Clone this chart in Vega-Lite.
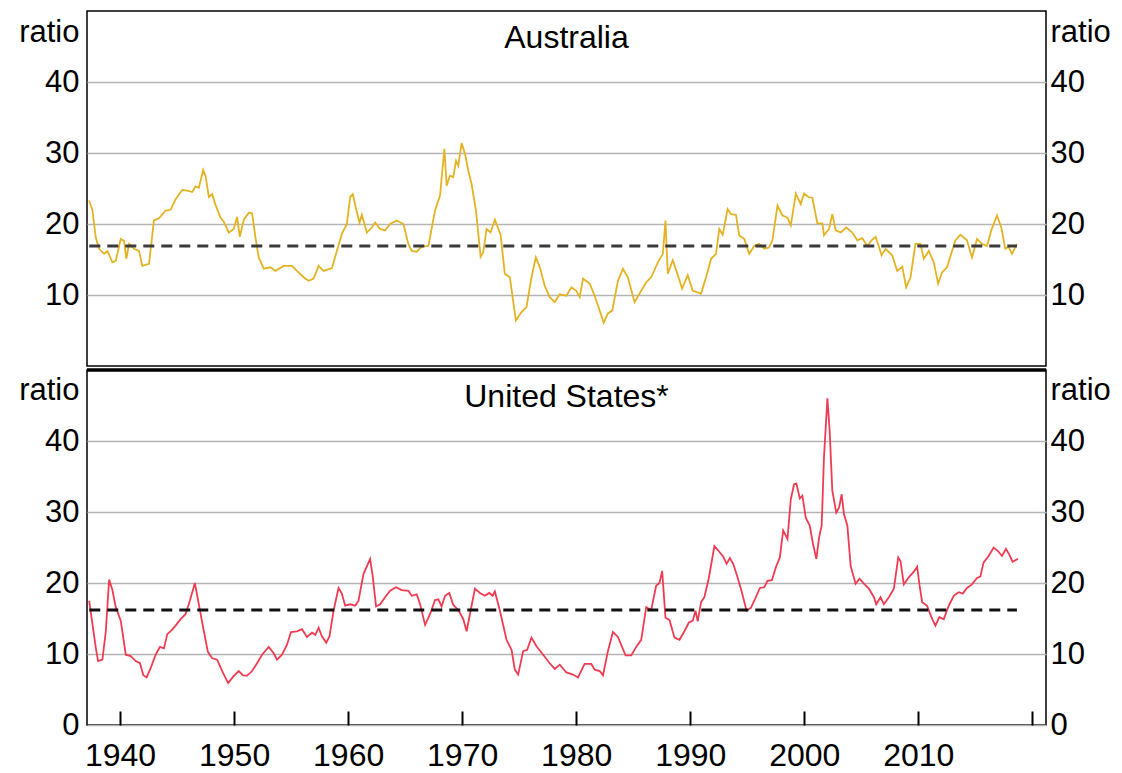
{
  "$schema": "https://vega.github.io/schema/vega-lite/v6.json",
  "background": "white",
  "padding": {"left": 17, "top": 10, "right": 5, "bottom": 2},
  "autosize": {"type": "pad"},
  "spacing": 0,
  "config": {
    "font": "Liberation Sans",
    "view": {"stroke": "black", "strokeWidth": 1.5},
    "axis": {
      "labelFont": "Liberation Sans",
      "labelFontSize": 31,
      "labelColor": "black",
      "titleFont": "Liberation Sans",
      "titleFontSize": 31,
      "titleFontWeight": "normal",
      "titleColor": "black"
    }
  },
  "datasets": {
    "aus": [
      {"year": 1937.29, "value": 23.3}, {"year": 1937.58, "value": 21.9}, {"year": 1937.87, "value": 18.1},
      {"year": 1938.16, "value": 16.5}, {"year": 1938.6, "value": 15.8}, {"year": 1938.89, "value": 16.2},
      {"year": 1939.33, "value": 14.6}, {"year": 1939.62, "value": 14.8}, {"year": 1940.06, "value": 17.9},
      {"year": 1940.35, "value": 17.6}, {"year": 1940.55, "value": 15.1}, {"year": 1940.79, "value": 17.2},
      {"year": 1941.22, "value": 16.5}, {"year": 1941.66, "value": 16.2}, {"year": 1941.95, "value": 14.1},
      {"year": 1942.54, "value": 14.4}, {"year": 1942.97, "value": 20.5}, {"year": 1943.41, "value": 20.8},
      {"year": 1943.99, "value": 21.9}, {"year": 1944.43, "value": 22.0}, {"year": 1944.87, "value": 23.5},
      {"year": 1945.45, "value": 24.8}, {"year": 1945.89, "value": 24.7}, {"year": 1946.33, "value": 24.5},
      {"year": 1946.62, "value": 25.3}, {"year": 1946.91, "value": 25.1}, {"year": 1947.29, "value": 27.6},
      {"year": 1947.49, "value": 26.8}, {"year": 1947.79, "value": 23.8}, {"year": 1948.08, "value": 24.2},
      {"year": 1948.37, "value": 22.7}, {"year": 1948.81, "value": 20.9}, {"year": 1949.1, "value": 20.3},
      {"year": 1949.54, "value": 18.8}, {"year": 1949.97, "value": 19.3}, {"year": 1950.26, "value": 21.0},
      {"year": 1950.5, "value": 18.2}, {"year": 1950.85, "value": 20.6}, {"year": 1951.29, "value": 21.6},
      {"year": 1951.58, "value": 21.5}, {"year": 1951.87, "value": 18.1}, {"year": 1952.16, "value": 15.3},
      {"year": 1952.6, "value": 13.7}, {"year": 1953.18, "value": 13.9}, {"year": 1953.62, "value": 13.4},
      {"year": 1954.35, "value": 14.1}, {"year": 1955.08, "value": 14.1}, {"year": 1955.51, "value": 13.4},
      {"year": 1956.1, "value": 12.5}, {"year": 1956.53, "value": 12.0}, {"year": 1956.97, "value": 12.3},
      {"year": 1957.41, "value": 14.1}, {"year": 1957.85, "value": 13.4}, {"year": 1958.58, "value": 13.8},
      {"year": 1959.01, "value": 16.2}, {"year": 1959.45, "value": 18.6}, {"year": 1959.89, "value": 20.0},
      {"year": 1960.18, "value": 23.8}, {"year": 1960.41, "value": 24.2}, {"year": 1960.7, "value": 22.1},
      {"year": 1961.0, "value": 20.2}, {"year": 1961.2, "value": 21.3}, {"year": 1961.64, "value": 18.8},
      {"year": 1962.08, "value": 19.5}, {"year": 1962.37, "value": 20.2}, {"year": 1962.81, "value": 19.3},
      {"year": 1963.24, "value": 19.1}, {"year": 1963.68, "value": 20.0}, {"year": 1964.26, "value": 20.5},
      {"year": 1964.85, "value": 20.0}, {"year": 1965.28, "value": 17.2}, {"year": 1965.58, "value": 16.2},
      {"year": 1966.02, "value": 16.1}, {"year": 1966.45, "value": 16.8}, {"year": 1967.04, "value": 16.9},
      {"year": 1967.62, "value": 21.9}, {"year": 1968.06, "value": 24.0}, {"year": 1968.44, "value": 30.6},
      {"year": 1968.64, "value": 25.4}, {"year": 1968.93, "value": 26.8}, {"year": 1969.22, "value": 26.6},
      {"year": 1969.46, "value": 28.9}, {"year": 1969.66, "value": 28.2}, {"year": 1969.95, "value": 31.4},
      {"year": 1970.25, "value": 29.9}, {"year": 1970.54, "value": 27.5}, {"year": 1970.83, "value": 25.6},
      {"year": 1971.21, "value": 21.9}, {"year": 1971.62, "value": 15.4}, {"year": 1971.85, "value": 16.0},
      {"year": 1972.14, "value": 19.3}, {"year": 1972.49, "value": 18.8}, {"year": 1972.87, "value": 20.6},
      {"year": 1973.37, "value": 18.5}, {"year": 1973.74, "value": 13.0}, {"year": 1974.18, "value": 12.5},
      {"year": 1974.71, "value": 6.4}, {"year": 1975.2, "value": 7.6}, {"year": 1975.64, "value": 8.3},
      {"year": 1976.08, "value": 12.5}, {"year": 1976.46, "value": 15.3}, {"year": 1976.81, "value": 13.9},
      {"year": 1977.24, "value": 11.3}, {"year": 1977.68, "value": 9.7}, {"year": 1978.12, "value": 9.0},
      {"year": 1978.56, "value": 10.1}, {"year": 1979.14, "value": 9.9}, {"year": 1979.58, "value": 11.1},
      {"year": 1980.01, "value": 10.6}, {"year": 1980.31, "value": 9.7}, {"year": 1980.6, "value": 12.3},
      {"year": 1981.18, "value": 11.6}, {"year": 1981.62, "value": 9.9}, {"year": 1982.06, "value": 7.8},
      {"year": 1982.41, "value": 6.1}, {"year": 1982.78, "value": 7.4}, {"year": 1983.16, "value": 7.8},
      {"year": 1983.66, "value": 12.0}, {"year": 1984.1, "value": 13.7}, {"year": 1984.53, "value": 12.5},
      {"year": 1985.12, "value": 9.0}, {"year": 1985.7, "value": 10.6}, {"year": 1986.14, "value": 11.8},
      {"year": 1986.58, "value": 12.5}, {"year": 1987.16, "value": 14.6}, {"year": 1987.6, "value": 15.8},
      {"year": 1987.83, "value": 20.5}, {"year": 1988.03, "value": 13.0}, {"year": 1988.47, "value": 14.9},
      {"year": 1988.91, "value": 12.8}, {"year": 1989.29, "value": 10.9}, {"year": 1989.78, "value": 12.8},
      {"year": 1990.22, "value": 10.6}, {"year": 1990.95, "value": 10.2}, {"year": 1991.39, "value": 12.5},
      {"year": 1991.83, "value": 15.1}, {"year": 1992.26, "value": 15.8}, {"year": 1992.55, "value": 19.3},
      {"year": 1992.85, "value": 18.5}, {"year": 1993.28, "value": 22.1}, {"year": 1993.57, "value": 21.4},
      {"year": 1994.01, "value": 21.3}, {"year": 1994.3, "value": 18.4}, {"year": 1994.74, "value": 17.9},
      {"year": 1995.17, "value": 15.8}, {"year": 1995.61, "value": 16.9}, {"year": 1996.05, "value": 17.2},
      {"year": 1996.49, "value": 16.5}, {"year": 1996.92, "value": 16.7}, {"year": 1997.21, "value": 17.7},
      {"year": 1997.65, "value": 22.6}, {"year": 1998.09, "value": 21.2}, {"year": 1998.53, "value": 20.9},
      {"year": 1998.82, "value": 19.8}, {"year": 1999.26, "value": 24.3}, {"year": 1999.69, "value": 22.8},
      {"year": 1999.98, "value": 24.3}, {"year": 2000.36, "value": 23.8}, {"year": 2000.71, "value": 23.7},
      {"year": 2001.15, "value": 20.1}, {"year": 2001.59, "value": 20.1}, {"year": 2001.73, "value": 18.4},
      {"year": 2002.17, "value": 19.3}, {"year": 2002.46, "value": 21.4}, {"year": 2002.76, "value": 19.1},
      {"year": 2003.19, "value": 18.8}, {"year": 2003.69, "value": 19.5}, {"year": 2004.21, "value": 18.8},
      {"year": 2004.65, "value": 17.7}, {"year": 2005.09, "value": 18.0}, {"year": 2005.53, "value": 16.9},
      {"year": 2005.9, "value": 17.7}, {"year": 2006.26, "value": 18.2}, {"year": 2006.55, "value": 16.8},
      {"year": 2006.78, "value": 15.6}, {"year": 2007.13, "value": 16.5}, {"year": 2007.71, "value": 15.6},
      {"year": 2008.15, "value": 13.4}, {"year": 2008.59, "value": 14.0}, {"year": 2008.94, "value": 11.1},
      {"year": 2009.32, "value": 12.5}, {"year": 2009.75, "value": 17.2}, {"year": 2010.19, "value": 17.2},
      {"year": 2010.48, "value": 15.1}, {"year": 2010.92, "value": 16.2}, {"year": 2011.36, "value": 14.6},
      {"year": 2011.74, "value": 11.6}, {"year": 2012.09, "value": 13.2}, {"year": 2012.52, "value": 13.9},
      {"year": 2012.96, "value": 16.2}, {"year": 2013.25, "value": 17.7}, {"year": 2013.69, "value": 18.5},
      {"year": 2013.98, "value": 18.1}, {"year": 2014.27, "value": 17.7}, {"year": 2014.71, "value": 15.3},
      {"year": 2015.15, "value": 17.9}, {"year": 2015.59, "value": 17.2}, {"year": 2016.02, "value": 16.9},
      {"year": 2016.4, "value": 19.1}, {"year": 2016.9, "value": 21.2}, {"year": 2017.28, "value": 19.5},
      {"year": 2017.63, "value": 16.5}, {"year": 2017.92, "value": 16.8}, {"year": 2018.21, "value": 15.8},
      {"year": 2018.65, "value": 17.2}
    ],
    "us": [
      {"year": 1937.29, "value": 17.5}, {"year": 1937.58, "value": 14.2}, {"year": 1937.87, "value": 10.9},
      {"year": 1938.07, "value": 9.0}, {"year": 1938.45, "value": 9.2}, {"year": 1938.75, "value": 13.2},
      {"year": 1939.04, "value": 20.5}, {"year": 1939.33, "value": 19.0}, {"year": 1939.62, "value": 16.6},
      {"year": 1940.06, "value": 14.7}, {"year": 1940.5, "value": 9.9}, {"year": 1940.93, "value": 9.7},
      {"year": 1941.37, "value": 9.0}, {"year": 1941.75, "value": 8.7}, {"year": 1942.04, "value": 7.0},
      {"year": 1942.33, "value": 6.7}, {"year": 1942.68, "value": 8.0}, {"year": 1943.12, "value": 9.9},
      {"year": 1943.5, "value": 11.0}, {"year": 1943.85, "value": 10.8}, {"year": 1944.14, "value": 12.8},
      {"year": 1944.49, "value": 13.3}, {"year": 1944.87, "value": 14.0}, {"year": 1945.31, "value": 14.9},
      {"year": 1945.74, "value": 15.6}, {"year": 1946.12, "value": 17.5}, {"year": 1946.56, "value": 20.0},
      {"year": 1946.91, "value": 17.0}, {"year": 1947.29, "value": 13.7}, {"year": 1947.7, "value": 10.3},
      {"year": 1948.08, "value": 9.4}, {"year": 1948.51, "value": 9.2}, {"year": 1949.04, "value": 7.3},
      {"year": 1949.48, "value": 5.9}, {"year": 1949.92, "value": 6.8}, {"year": 1950.41, "value": 7.6},
      {"year": 1950.79, "value": 7.0}, {"year": 1951.14, "value": 6.95}, {"year": 1951.58, "value": 7.6},
      {"year": 1952.01, "value": 8.7}, {"year": 1952.45, "value": 9.9}, {"year": 1953.04, "value": 11.0},
      {"year": 1953.47, "value": 10.1}, {"year": 1953.76, "value": 9.2}, {"year": 1954.2, "value": 9.9},
      {"year": 1954.64, "value": 11.3}, {"year": 1954.99, "value": 13.1}, {"year": 1955.51, "value": 13.2},
      {"year": 1955.95, "value": 13.5}, {"year": 1956.39, "value": 12.4}, {"year": 1956.83, "value": 13.0},
      {"year": 1957.12, "value": 12.7}, {"year": 1957.41, "value": 13.7}, {"year": 1957.7, "value": 12.5},
      {"year": 1958.08, "value": 11.6}, {"year": 1958.37, "value": 12.5}, {"year": 1958.72, "value": 16.1},
      {"year": 1959.16, "value": 19.3}, {"year": 1959.45, "value": 18.5}, {"year": 1959.74, "value": 16.8},
      {"year": 1960.18, "value": 17.0}, {"year": 1960.62, "value": 16.8}, {"year": 1960.91, "value": 17.5},
      {"year": 1961.35, "value": 21.3}, {"year": 1961.93, "value": 23.4}, {"year": 1962.16, "value": 20.9},
      {"year": 1962.45, "value": 16.7}, {"year": 1962.81, "value": 17.0}, {"year": 1963.24, "value": 18.0},
      {"year": 1963.68, "value": 18.9}, {"year": 1964.2, "value": 19.4}, {"year": 1964.7, "value": 19.0},
      {"year": 1965.29, "value": 18.9}, {"year": 1965.58, "value": 18.2}, {"year": 1966.02, "value": 18.4},
      {"year": 1966.31, "value": 17.0}, {"year": 1966.75, "value": 14.1}, {"year": 1967.18, "value": 15.6},
      {"year": 1967.62, "value": 17.6}, {"year": 1967.91, "value": 17.7}, {"year": 1968.2, "value": 16.7},
      {"year": 1968.5, "value": 18.2}, {"year": 1968.87, "value": 18.6}, {"year": 1969.22, "value": 16.9},
      {"year": 1969.66, "value": 16.2}, {"year": 1970.1, "value": 14.9}, {"year": 1970.39, "value": 13.2},
      {"year": 1970.68, "value": 15.6}, {"year": 1971.12, "value": 19.2}, {"year": 1971.56, "value": 18.6},
      {"year": 1971.99, "value": 18.2}, {"year": 1972.37, "value": 18.6}, {"year": 1972.67, "value": 18.2},
      {"year": 1972.87, "value": 18.8}, {"year": 1973.31, "value": 16.1}, {"year": 1973.89, "value": 12.0},
      {"year": 1974.33, "value": 10.6}, {"year": 1974.62, "value": 7.8}, {"year": 1974.91, "value": 7.1},
      {"year": 1975.35, "value": 10.4}, {"year": 1975.7, "value": 10.6}, {"year": 1976.08, "value": 12.3},
      {"year": 1976.52, "value": 11.1}, {"year": 1977.1, "value": 9.9}, {"year": 1977.68, "value": 8.7},
      {"year": 1978.12, "value": 7.9}, {"year": 1978.56, "value": 8.5}, {"year": 1979.14, "value": 7.4},
      {"year": 1979.72, "value": 7.1}, {"year": 1980.16, "value": 6.7}, {"year": 1980.74, "value": 8.6},
      {"year": 1981.33, "value": 8.6}, {"year": 1981.62, "value": 7.8}, {"year": 1982.06, "value": 7.6},
      {"year": 1982.35, "value": 7.0}, {"year": 1982.78, "value": 10.4}, {"year": 1983.22, "value": 13.1},
      {"year": 1983.66, "value": 12.4}, {"year": 1984.33, "value": 9.8}, {"year": 1984.83, "value": 9.8},
      {"year": 1985.26, "value": 11.0}, {"year": 1985.7, "value": 12.0}, {"year": 1986.14, "value": 16.6},
      {"year": 1986.58, "value": 16.2}, {"year": 1987.01, "value": 19.6}, {"year": 1987.3, "value": 20.0},
      {"year": 1987.54, "value": 21.7}, {"year": 1987.83, "value": 15.1}, {"year": 1988.18, "value": 14.8},
      {"year": 1988.62, "value": 12.3}, {"year": 1989.06, "value": 12.0}, {"year": 1989.49, "value": 13.2},
      {"year": 1989.87, "value": 14.4}, {"year": 1990.22, "value": 14.7}, {"year": 1990.46, "value": 16.1},
      {"year": 1990.66, "value": 14.6}, {"year": 1990.95, "value": 17.3}, {"year": 1991.24, "value": 18.0},
      {"year": 1991.62, "value": 20.6}, {"year": 1992.12, "value": 25.2}, {"year": 1992.55, "value": 24.4},
      {"year": 1992.9, "value": 23.7}, {"year": 1993.19, "value": 22.7}, {"year": 1993.48, "value": 23.5},
      {"year": 1993.77, "value": 22.7}, {"year": 1994.15, "value": 20.8}, {"year": 1994.53, "value": 18.7},
      {"year": 1994.94, "value": 16.1}, {"year": 1995.32, "value": 16.5}, {"year": 1995.7, "value": 17.8},
      {"year": 1996.11, "value": 19.3}, {"year": 1996.49, "value": 19.4}, {"year": 1996.78, "value": 20.3},
      {"year": 1997.16, "value": 20.4}, {"year": 1997.51, "value": 22.2}, {"year": 1997.86, "value": 23.6},
      {"year": 1998.15, "value": 27.4}, {"year": 1998.53, "value": 26.2}, {"year": 1998.82, "value": 31.8},
      {"year": 1999.11, "value": 33.9}, {"year": 1999.31, "value": 34.0}, {"year": 1999.61, "value": 31.9},
      {"year": 1999.84, "value": 32.3}, {"year": 2000.13, "value": 29.2}, {"year": 2000.48, "value": 28.1},
      {"year": 2000.77, "value": 25.5}, {"year": 2001.06, "value": 23.4}, {"year": 2001.3, "value": 26.4},
      {"year": 2001.53, "value": 28.1}, {"year": 2001.73, "value": 37.7}, {"year": 2002.03, "value": 46.0},
      {"year": 2002.23, "value": 41.4}, {"year": 2002.46, "value": 33.0}, {"year": 2002.81, "value": 29.9},
      {"year": 2003.05, "value": 30.6}, {"year": 2003.28, "value": 32.5}, {"year": 2003.48, "value": 29.7},
      {"year": 2003.78, "value": 28.1}, {"year": 2004.07, "value": 22.4}, {"year": 2004.5, "value": 19.9},
      {"year": 2004.85, "value": 20.6}, {"year": 2005.23, "value": 19.9}, {"year": 2005.67, "value": 19.2},
      {"year": 2006.11, "value": 18.0}, {"year": 2006.31, "value": 17.0}, {"year": 2006.69, "value": 18.0},
      {"year": 2006.98, "value": 17.0}, {"year": 2007.42, "value": 18.0}, {"year": 2007.86, "value": 19.2},
      {"year": 2008.24, "value": 23.6}, {"year": 2008.44, "value": 23.1}, {"year": 2008.73, "value": 19.8},
      {"year": 2009.17, "value": 20.8}, {"year": 2009.61, "value": 21.6}, {"year": 2009.9, "value": 22.3},
      {"year": 2010.1, "value": 19.8}, {"year": 2010.34, "value": 17.3}, {"year": 2010.77, "value": 16.8},
      {"year": 2011.15, "value": 15.2}, {"year": 2011.5, "value": 14.0}, {"year": 2011.85, "value": 15.2},
      {"year": 2012.23, "value": 14.9}, {"year": 2012.67, "value": 16.8}, {"year": 2013.11, "value": 18.2},
      {"year": 2013.55, "value": 18.7}, {"year": 2013.9, "value": 18.5}, {"year": 2014.27, "value": 19.3},
      {"year": 2014.71, "value": 19.8}, {"year": 2015.15, "value": 20.7}, {"year": 2015.44, "value": 20.9},
      {"year": 2015.73, "value": 22.9}, {"year": 2016.17, "value": 23.8}, {"year": 2016.61, "value": 25.0},
      {"year": 2016.99, "value": 24.5}, {"year": 2017.34, "value": 23.8}, {"year": 2017.69, "value": 24.8},
      {"year": 2017.98, "value": 24.0}, {"year": 2018.27, "value": 23.0}, {"year": 2018.74, "value": 23.4}
    ],
    "aus_avg": [{"start": 1937.3, "end": 2018.65, "avg": 16.9}],
    "us_avg": [{"start": 1937.3, "end": 2018.65, "avg": 16.2}]
  },
  "vconcat": [
    {
      "width": 959,
      "height": 355,
      "resolve": {"axis": {"y": "independent"}},
      "layer": [
        {
          "data": {"name": "aus"},
          "mark": {"type": "line", "color": "#e3b324", "strokeWidth": 1.8},
          "encoding": {
            "x": {"field": "year", "type": "quantitative", "scale": {"domain": [1937.1, 2021.2], "nice": false, "zero": false}, "axis": null},
            "y": {
              "field": "value", "type": "quantitative",
              "scale": {"domain": [0, 50], "nice": false},
              "axis": {"orient": "left", "values": [10, 20, 30, 40], "grid": true, "gridColor": "#b4b4b4", "gridWidth": 1.5, "domain": false, "ticks": false, "labelPadding": 8, "title": "ratio", "titleAngle": 0, "titleAlign": "right", "titleBaseline": "alphabetic", "titleX": -8, "titleY": 30}
            }
          }
        },
        {
          "data": {"name": "aus_avg"},
          "mark": {"type": "rule", "color": "#3a3a3a", "strokeWidth": 2.8, "strokeDash": [11, 7]},
          "encoding": {
            "x": {"field": "start", "type": "quantitative", "axis": null},
            "x2": {"field": "end"},
            "y": {
              "field": "avg", "type": "quantitative",
              "axis": {"orient": "right", "values": [10, 20, 30, 40], "grid": false, "domain": false, "ticks": false, "labelPadding": 4, "title": "ratio", "titleAngle": 0, "titleAlign": "left", "titleBaseline": "alphabetic", "titleX": 4, "titleY": 30}
            }
          }
        },
        {
          "data": {"values": [{}]},
          "mark": {"type": "text", "fontSize": 32, "font": "Liberation Sans", "color": "black"},
          "encoding": {
            "x": {"datum": 1979.15, "type": "quantitative", "axis": null},
            "y": {"datum": 46.2, "type": "quantitative", "axis": null},
            "text": {"value": "Australia"}
          }
        }
      ]
    },
    {
      "width": 959,
      "height": 355,
      "resolve": {"axis": {"y": "independent"}},
      "layer": [
        {
          "data": {"name": "us"},
          "mark": {"type": "line", "color": "#f03c52", "strokeWidth": 1.8},
          "encoding": {
            "x": {
              "field": "year", "type": "quantitative",
              "scale": {"domain": [1937.1, 2021.2], "nice": false, "zero": false},
              "axis": {"values": [1940, 1950, 1960, 1970, 1980, 1990, 2000, 2010, 2020], "format": "d", "labelExpr": "datum.value == 2020 ? '' : datum.label", "domain": false, "grid": false, "ticks": true, "tickSize": -14, "tickWidth": 2, "tickColor": "black", "labelPadding": 29, "labelFontSize": 32, "title": null}
            },
            "y": {
              "field": "value", "type": "quantitative",
              "scale": {"domain": [0, 50], "nice": false},
              "axis": {"orient": "left", "values": [0, 10, 20, 30, 40], "grid": true, "gridColor": "#b4b4b4", "gridWidth": 1.5, "domain": false, "ticks": false, "labelPadding": 8, "title": "ratio", "titleAngle": 0, "titleAlign": "right", "titleBaseline": "alphabetic", "titleX": -8, "titleY": 29}
            }
          }
        },
        {
          "data": {"name": "us_avg"},
          "mark": {"type": "rule", "color": "#111111", "strokeWidth": 2.8, "strokeDash": [11, 7]},
          "encoding": {
            "x": {"field": "start", "type": "quantitative"},
            "x2": {"field": "end"},
            "y": {
              "field": "avg", "type": "quantitative",
              "axis": {"orient": "right", "values": [0, 10, 20, 30, 40], "grid": false, "domain": false, "ticks": false, "labelPadding": 4, "title": "ratio", "titleAngle": 0, "titleAlign": "left", "titleBaseline": "alphabetic", "titleX": 4, "titleY": 29}
            }
          }
        },
        {
          "data": {"values": [{}]},
          "mark": {"type": "rule", "color": "black", "strokeWidth": 3.5},
          "encoding": {
            "y": {"datum": 50, "type": "quantitative", "axis": null}
          }
        },
        {
          "data": {"values": [{}]},
          "mark": {"type": "text", "fontSize": 32, "font": "Liberation Sans", "color": "black"},
          "encoding": {
            "x": {"datum": 1979.15, "type": "quantitative"},
            "y": {"datum": 46.2, "type": "quantitative", "axis": null},
            "text": {"value": "United States*"}
          }
        }
      ]
    }
  ]
}
